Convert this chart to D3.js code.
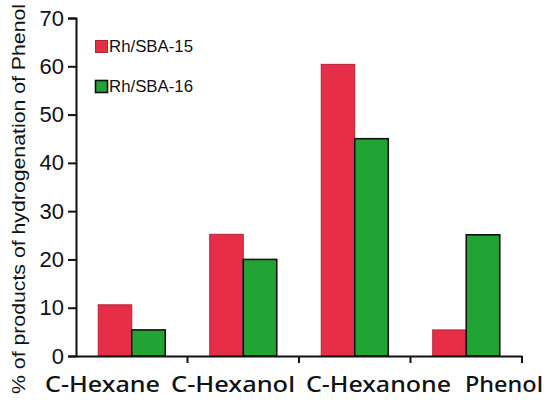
<!DOCTYPE html>
<html><head><meta charset="utf-8">
<script src="https://cdn.jsdelivr.net/npm/d3@7"></script>
<style>body{margin:0;background:#fff}svg{display:block}</style>
</head><body><div id="chart"></div>
<script>
const categories = ["C-Hexane","C-Hexanol","C-Hexanone","Phenol"];
const seriesNames = ["Rh/SBA-15","Rh/SBA-16"];
const sba15 = [10.6, 25.2, 60.4, 5.4];
const sba16 = [5.4, 20.0, 45.0, 25.1];
const yTicks = [0,10,20,30,40,50,60,70];
const yTitle = "% of products of hydrogenation of Phenol";

const W=550,H=403;
const svg=d3.select("#chart").append("svg").attr("width",W).attr("height",H);
const x0=d3.scaleBand().domain(categories).range([76,522]).padding(0);
const x1=d3.scaleBand().domain(seriesNames).range([0,x0.bandwidth()]).paddingInner(0).paddingOuter(0.664);
const y=d3.scaleLinear().domain([0,70]).range([356,18]);
const fills={"Rh/SBA-15":"#e62e46","Rh/SBA-16":"#22a435"};
const strokes={"Rh/SBA-15":"#b8203a","Rh/SBA-16":"#111"};
const vals={"Rh/SBA-15":sba15,"Rh/SBA-16":sba16};

categories.forEach((c,i)=>{
  seriesNames.forEach(s=>{
    const v=vals[s][i];
    svg.append("rect")
      .attr("x",x0(c)+x1(s)).attr("width",x1.bandwidth())
      .attr("y",y(v)).attr("height",y(0)-y(v))
      .attr("fill",fills[s]).attr("stroke",strokes[s])
      .attr("stroke-width",s==="Rh/SBA-16"?1.6:1);
  });
});

const ya=svg.append("g").attr("transform","translate(76,0)")
  .call(d3.axisLeft(y).tickValues(yTicks).tickSize(8).tickPadding(4));
ya.select(".domain").attr("stroke","#111").attr("stroke-width",2);
ya.selectAll(".tick line").attr("stroke","#111").attr("stroke-width",2);
ya.selectAll(".tick text").attr("font-family","Liberation Sans, Arial, sans-serif")
  .attr("font-size",22).attr("fill","#111");

const xa=svg.append("g").attr("transform","translate(0,356)")
  .call(d3.axisBottom(x0).tickSize(0).tickFormat(""));
xa.select(".domain").attr("stroke","#111").attr("stroke-width",2);
xa.selectAll(".tick").remove();
categories.forEach(c=>{
  const xb=x0(c)+x0.bandwidth();
  svg.append("line").attr("x1",xb).attr("x2",xb).attr("y1",356).attr("y2",363)
    .attr("stroke","#111").attr("stroke-width",2);
});
const labelSpan={"C-Hexane":[45,115],"C-Hexanol":[171,124],"C-Hexanone":[306,145],"Phenol":[465,78]};
categories.forEach(c=>{
  const [lx,lw]=labelSpan[c];
  svg.append("text").attr("x",lx).attr("y",392).text(c)
    .attr("font-family","Noto Sans, sans-serif").attr("font-size",22).attr("font-weight",500)
    .attr("fill","#111").attr("textLength",lw).attr("lengthAdjust","spacingAndGlyphs");
});

svg.append("text").attr("transform","translate(25,199) rotate(-90)")
  .attr("text-anchor","middle").text(yTitle)
  .attr("font-family","Liberation Sans, Arial, sans-serif").attr("font-size",18)
  .attr("fill","#111").attr("textLength",390).attr("lengthAdjust","spacingAndGlyphs");

const legY=[40,80];
seriesNames.forEach((s,i)=>{
  svg.append("rect").attr("x",95.5).attr("y",legY[i]+0.5).attr("width",12).attr("height",12)
    .attr("fill",fills[s]).attr("stroke",strokes[s]).attr("stroke-width",s==="Rh/SBA-16"?1.6:1);
  svg.append("text").attr("x",109).attr("y",legY[i]+12).text(s)
    .attr("font-family","Liberation Sans, Arial, sans-serif").attr("font-size",16).attr("fill","#111")
    .attr("textLength",84).attr("lengthAdjust","spacingAndGlyphs");
});
</script></body></html>
